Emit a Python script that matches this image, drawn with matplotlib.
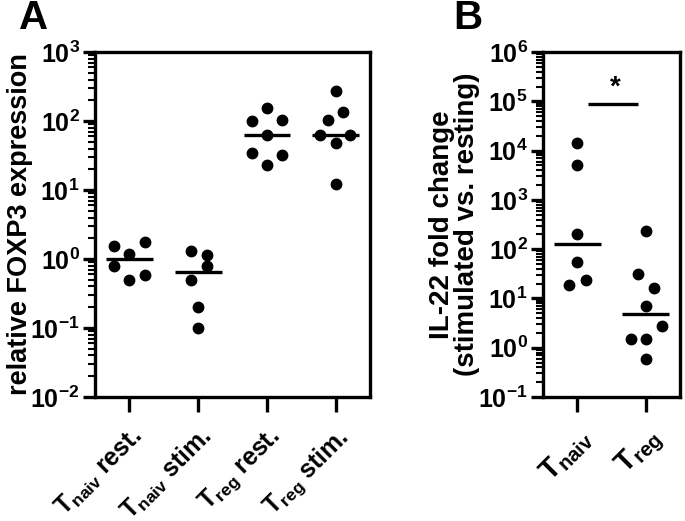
import numpy as np
import matplotlib
matplotlib.use("Agg")
import matplotlib.pyplot as plt
from matplotlib.ticker import FixedLocator, FixedFormatter, LogLocator, NullFormatter

plt.rcParams['font.family'] = ['Liberation Sans', 'DejaVu Sans']
plt.rcParams['font.weight'] = 'bold'
plt.rcParams['mathtext.fontset'] = 'custom'
plt.rcParams['mathtext.rm'] = 'Liberation Sans:bold'
plt.rcParams['mathtext.bf'] = 'Liberation Sans:bold'
plt.rcParams['mathtext.it'] = 'Liberation Sans:bold'

# panel A: relative FOXP3 expression
a_labels = [r"$\mathbf{T}_{\mathbf{naiv}}$ rest.", r"$\mathbf{T}_{\mathbf{naiv}}$ stim.",
            r"$\mathbf{T}_{\mathbf{reg}}$ rest.", r"$\mathbf{T}_{\mathbf{reg}}$ stim."]
a_tnaiv_rest = [1.54, 1.18, 1.76, 0.79, 0.50, 0.59]
a_tnaiv_stim = [1.31, 1.14, 0.79, 0.50, 0.20, 0.10]
a_treg_rest = [154, 100, 103, 63, 34, 32, 23]
a_treg_stim = [275, 136, 104, 63, 63, 48, 12.2]
# horizontal scatter of the dots (category units)
a_jitter = [[-0.22, 0, 0.22, -0.22, 0, 0.22],
            [-0.11, 0.13, 0.13, -0.11, 0, 0],
            [0, -0.22, 0.22, 0, -0.22, 0.22, 0],
            [0, 0.11, -0.11, -0.23, 0.21, 0, 0]]
a_exps = [-2, -1, 0, 1, 2, 3]

# panel B: IL-22 fold change
b_labels = [r"$\mathbf{T}_{\mathbf{naiv}}$", r"$\mathbf{T}_{\mathbf{reg}}$"]
b_tnaiv = [14400, 5150, 202, 55, 19, 24]
b_treg = [233, 32, 16, 7.0, 2.8, 1.5, 1.5, 0.6]
b_jitter = [[0, 0, 0, 0, -0.12, 0.13],
            [0, -0.11, 0.12, 0, 0.24, -0.22, 0, 0]]
b_exps = [-1, 0, 1, 2, 3, 4, 5, 6]
b_sig = 89000

LW = 2.4


def style_axis(ax, exps, xsize):
    ax.set_yscale('log')
    ax.set_ylim(10.0 ** exps[0], 10.0 ** exps[-1])
    ax.yaxis.set_major_locator(FixedLocator([10.0 ** e for e in exps]))
    ax.yaxis.set_major_formatter(FixedFormatter([r"$\mathbf{10^{%d}}$" % e for e in exps]))
    ax.yaxis.set_minor_locator(LogLocator(base=10, subs=np.arange(2, 10)))
    ax.yaxis.set_minor_formatter(NullFormatter())
    for s in ax.spines.values():
        s.set_linewidth(LW)
    ax.tick_params(axis='y', which='major', length=9, width=LW, labelsize=18, pad=2)
    ax.tick_params(axis='y', which='minor', length=5, width=1.5)
    ax.tick_params(axis='x', which='major', length=11, width=LW, labelsize=xsize, pad=8)


def draw_groups(ax, groups, jitter):
    for i, vals in enumerate(groups):
        xs = np.array(jitter[i]) + i
        ax.plot(xs, vals, 'o', color='black', markersize=7.5, clip_on=False)
        ax.hlines(np.median(vals), i - 0.34, i + 0.34, color='black', linewidth=LW)


fig = plt.figure(figsize=(6.85, 5.21), dpi=100)

axA = fig.add_axes([0.1387, 0.238, 0.4015, 0.662])
draw_groups(axA, [a_tnaiv_rest, a_tnaiv_stim, a_treg_rest, a_treg_stim], a_jitter)
style_axis(axA, a_exps, 18)
axA.set_xlim(-0.5, 3.5)
axA.set_xticks(range(len(a_labels)))
axA.set_xticklabels(a_labels, rotation=45, ha='right', rotation_mode='anchor')
axA.set_ylabel('relative FOXP3 expression', fontsize=19.5, fontweight='bold')
axA.yaxis.set_label_coords(-0.225, 0.5)

axB = fig.add_axes([0.7927, 0.238, 0.2, 0.662])
draw_groups(axB, [b_tnaiv, b_treg], b_jitter)
style_axis(axB, b_exps, 21)
axB.set_xlim(-0.5, 1.5)
axB.set_xticks(range(len(b_labels)))
axB.set_xticklabels(b_labels, rotation=45, ha='right', rotation_mode='anchor')
axB.set_ylabel('IL-22 fold change\n(stimulated vs. resting)', fontsize=20,
               fontweight='bold', linespacing=0.95)
axB.yaxis.set_label_coords(-0.46, 0.5)
axB.hlines(b_sig, 0.15, 0.88, color='black', linewidth=LW)
axB.text(0.55, b_sig * 1.15, '*', ha='center', va='bottom', fontsize=20, fontweight='bold')

fig.text(0.028, 0.945, 'A', fontsize=29, fontweight='bold')
fig.text(0.662, 0.945, 'B', fontsize=29, fontweight='bold')

fig.savefig('out.png', dpi=100)
